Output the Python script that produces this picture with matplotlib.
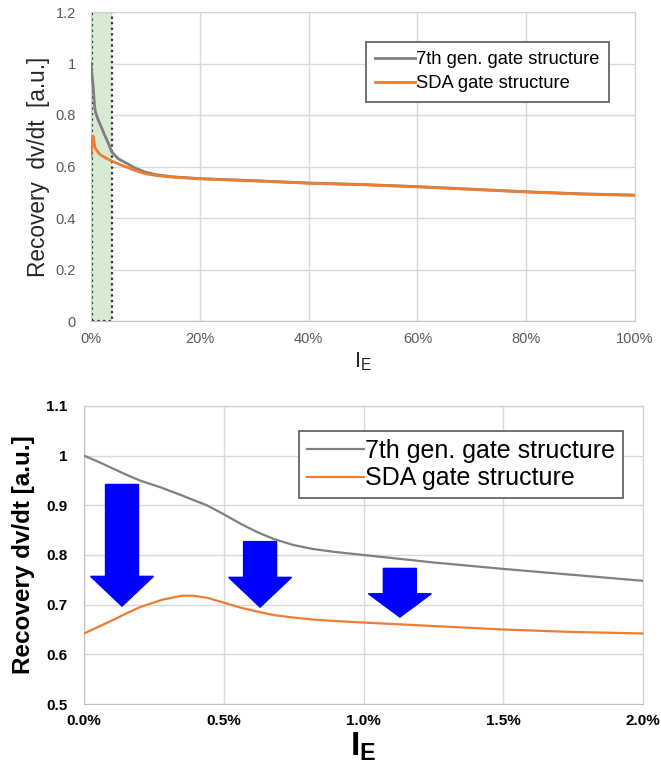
"""
Recovery dv/dt en fonction de I_E : vue globale et zoom 0-2 %.
"""

import numpy as np
from matplotlib import pyplot as plt
from matplotlib.ticker import PercentFormatter, MultipleLocator

plt.rcParams['font.family'] = ['Liberation Sans', 'DejaVu Sans']

# I_E en % du courant nominal
ie = [0, 0.05, 0.1, 0.15, 0.2, 0.28, 0.35, 0.39, 0.44, 0.5, 0.56, 0.62, 0.68, 0.75,
      0.82, 0.9, 1.0, 1.25, 1.5, 1.75, 2.0, 2.5, 3.0, 3.8, 5, 6.5, 8, 10, 12, 15,
      20, 30, 40, 50, 60, 70, 80, 90, 100]

gen7 = [1.0, 0.988, 0.975, 0.962, 0.95, 0.935, 0.92, 0.911, 0.90, 0.882, 0.863,
        0.846, 0.832, 0.82, 0.812, 0.806, 0.80, 0.785, 0.772, 0.76, 0.748, 0.722,
        0.70, 0.657, 0.63, 0.613, 0.595, 0.578, 0.568, 0.56, 0.553, 0.545, 0.536,
        0.53, 0.522, 0.512, 0.502, 0.494, 0.489]

sda = [0.642, 0.655, 0.668, 0.682, 0.695, 0.710, 0.718, 0.718, 0.714, 0.704, 0.694,
       0.686, 0.679, 0.674, 0.670, 0.667, 0.664, 0.657, 0.65, 0.645, 0.642, 0.636,
       0.63, 0.622, 0.61, 0.598, 0.585, 0.572, 0.565, 0.559, 0.552, 0.544, 0.535,
       0.529, 0.521, 0.511, 0.501, 0.493, 0.488]

labels = ['7th gen. gate structure', 'SDA gate structure']

# zone agrandie (en %)
zone = (0.2, 3.8)

# fleches du zoom : position en %, haut, pointe
fleche_x = [0.136, 0.63, 1.13]
fleche_haut = [0.942, 0.827, 0.773]
fleche_pointe = [0.697, 0.695, 0.675]
fleche_tete = [0.06, 0.06, 0.047]

GRIS = '#7f7f7f'
ORANGE = '#ed7d31'
GRILLE = '#d9d9d9'

fig = plt.figure(figsize=(6.61, 7.64), dpi=100)

# ---- graphe du haut ----
ax1 = fig.add_axes([91/661, 1-321/764, 544/661, 309/764])
ax1.axvspan(zone[0], zone[1], ymin=0, ymax=1, facecolor='#d9ead3', edgecolor='#1f2f3f',
            linestyle=(0, (1, 1.5)), linewidth=1.6, zorder=1)
ax1.plot(ie, gen7, color=GRIS, lw=2, label=labels[0], zorder=3)
ax1.plot(ie, sda, color=ORANGE, lw=2, label=labels[1], zorder=3)
ax1.set_xlim(0, 100)
ax1.set_ylim(0, 1.2)
ax1.xaxis.set_major_locator(MultipleLocator(20))
ax1.xaxis.set_major_formatter(PercentFormatter(decimals=0))
ax1.set_yticks([0, 0.2, 0.4, 0.6, 0.8, 1, 1.2], ['0', '0.2', '0.4', '0.6', '0.8', '1', '1.2'])
ax1.grid(True, color=GRILLE, lw=1, zorder=0)
ax1.set_axisbelow(True)
ax1.tick_params(length=0, labelsize=10.5, labelcolor='#595959', pad=8)
ax1.tick_params(axis='y', pad=11)
for s in ax1.spines.values():
    s.set_color('#d0d0d0')
ax1.spines['bottom'].set_color('#bfbfbf')
ax1.set_ylabel('Recovery  dv/dt  [a.u.]', fontsize=16.3, color='#262626', labelpad=4)
ax1.set_xlabel('I$_\\mathregular{E}$', fontsize=16, color='#262626', labelpad=3)
leg1 = ax1.legend(loc='upper right', bbox_to_anchor=(0.952, 0.903), borderaxespad=0,
                  fontsize=13.2, fancybox=False, edgecolor='#595959', framealpha=1,
                  handlelength=2.2, handletextpad=0.05, borderpad=0.5, labelspacing=0.4)
leg1.get_frame().set_linewidth(1.2)

# ---- graphe du bas (zoom 0-2 %) ----
ax2 = fig.add_axes([84/661, 1-704/764, 559/661, 298/764])
ax2.plot(ie, gen7, color=GRIS, lw=1.6, label=labels[0], zorder=3)
ax2.plot(ie, sda, color=ORANGE, lw=1.6, label=labels[1], zorder=3)
for x, h, p, t in zip(fleche_x, fleche_haut, fleche_pointe, fleche_tete):
    ax2.arrow(x, h, 0, p - h, width=0.118, head_width=0.225, head_length=t,
              length_includes_head=True, color='#0000ff', zorder=4)
ax2.set_xlim(0, 2)
ax2.set_ylim(0.5, 1.1)
ax2.xaxis.set_major_locator(MultipleLocator(0.5))
ax2.xaxis.set_major_formatter(PercentFormatter(decimals=1))
ax2.set_yticks([0.5, 0.6, 0.7, 0.8, 0.9, 1, 1.1], ['0.5', '0.6', '0.7', '0.8', '0.9', '1', '1.1'])
ax2.grid(True, color=GRILLE, lw=1, zorder=0)
ax2.set_axisbelow(True)
ax2.tick_params(length=0, labelsize=11, pad=7)
ax2.tick_params(axis='y', pad=12)
for lab in ax2.get_xticklabels() + ax2.get_yticklabels():
    lab.set_fontweight('bold')
for s in ax2.spines.values():
    s.set_color('#d0d0d0')
ax2.spines['bottom'].set_color('#bfbfbf')
ax2.spines['left'].set_color('#bfbfbf')
ax2.set_ylabel('Recovery dv/dt [a.u.]', fontsize=17.5, fontweight='bold', labelpad=8)
ax2.set_xlabel('I$_\\mathregular{E}$', fontsize=24, fontweight='bold', labelpad=2)
leg2 = ax2.legend(loc='upper right', bbox_to_anchor=(0.964, 0.916), borderaxespad=0,
                  fontsize=18, fancybox=False, edgecolor='#595959', framealpha=1,
                  handlelength=2.3, handletextpad=0.05, borderpad=0.3, labelspacing=0.15)
leg2.get_frame().set_linewidth(1.2)

fig.savefig('out.png', dpi=100)
